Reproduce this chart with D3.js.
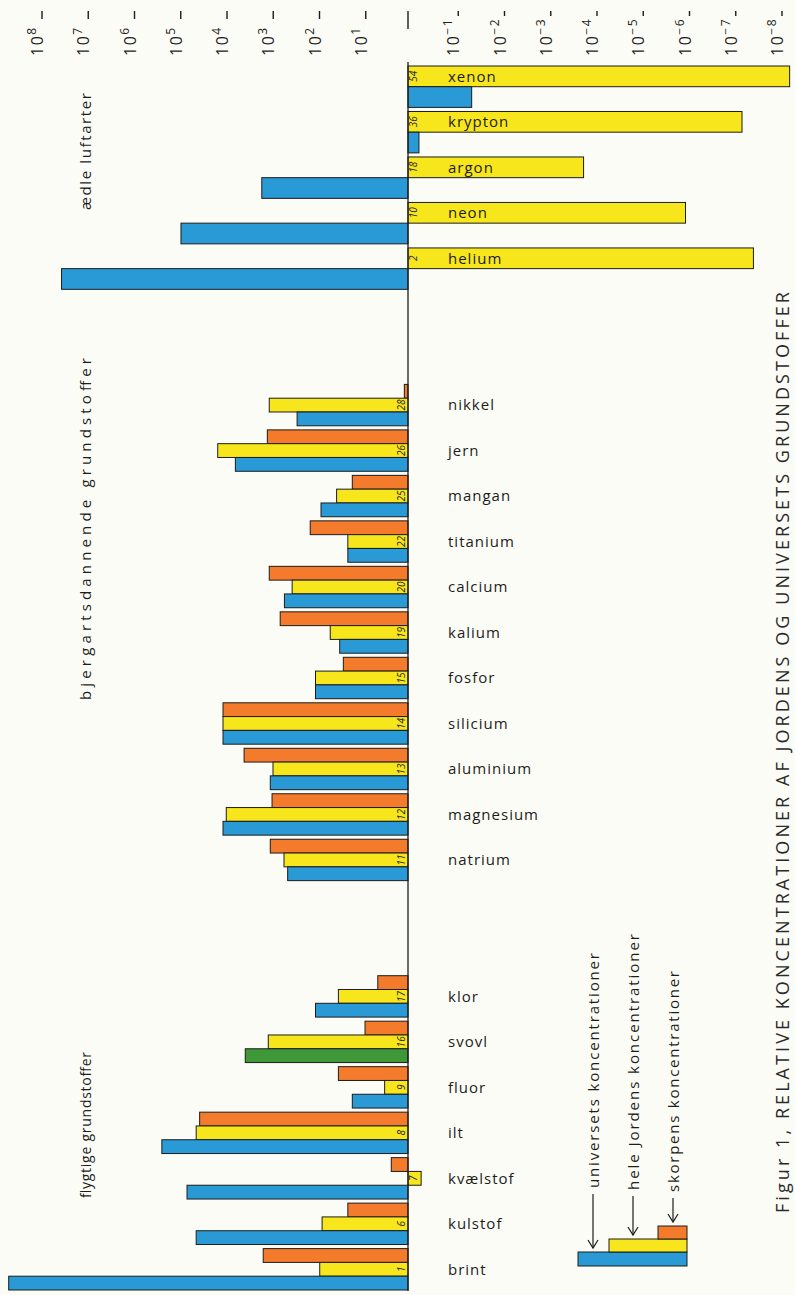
<!DOCTYPE html>
<html>
<head>
<meta charset="utf-8">
<script src="https://cdn.jsdelivr.net/npm/d3@7"></script>
<style>
  html, body { margin: 0; padding: 0; background: #fcfcf6; }
  svg { display: block; font-family: "Open Sans", sans-serif; }
</style>
</head>
<body>
<svg id="chart"></svg>
<script>
// noble gases: only whole earth and universe
const nobleNames = ["xenon", "krypton", "argon", "neon", "helium"];
const nobleNumbers = [54, 36, 18, 10, 2];
const nobleEarth = [5.6e-9, 6e-8, 1.6e-4, 1e-6, 3.4e-8];
const nobleUniverse = [0.042, 0.58, 1.45e3, 8.1e4, 3.1e7];

// rock forming elements
const rockNames = ["nikkel", "jern", "mangan", "titanium", "calcium", "kalium", "fosfor", "silicium", "aluminium", "magnesium", "natrium"];
const rockNumbers = [28, 26, 25, 22, 20, 19, 15, 14, 13, 12, 11];
const rockCrust = [1.2, 1.1e3, 16, 130, 1e3, 580, 25, 1e4, 3.5e3, 870, 950];
const rockEarth = [1e3, 1.3e4, 35, 20, 320, 48, 100, 1e4, 830, 8.5e3, 480];
const rockUniverse = [250, 5.4e3, 76, 20, 470, 30, 100, 1e4, 950, 1e4, 400];

// volatile elements
const volatileNames = ["klor", "svovl", "fluor", "ilt", "kvælstof", "kulstof", "brint"];
const volatileNumbers = [17, 16, 9, 8, 7, 6, 1];
const volatileCrust = [4.5, 8.5, 32, 3.2e4, 2.3, 20, 1.35e3];
const volatileEarth = [32, 1.05e3, 3.2, 3.8e4, 0.52, 72, 81];
const volatileUniverse = [100, 3.3e3, 16, 2.1e5, 6e4, 3.8e4, 4.3e8];

const tickExponents = [8, 7, 6, 5, 4, 3, 2, 1, 0, -1, -2, -3, -4, -5, -6, -7, -8];

const groupLabels = ["ædle luftarter", "bjergartsdannende grundstoffer", "flygtige grundstoffer"];
const legendLabels = ["universets koncentrationer", "hele Jordens koncentrationer", "skorpens koncentrationer"];
const title = "Figur 1,  RELATIVE KONCENTRATIONER AF JORDENS OG UNIVERSETS GRUNDSTOFFER";

const width = 795;
const height = 1295;
const colors = { universe: "#2a9ad6", earth: "#f8e61c", crust: "#f47a2c" };
const green = "#3f9838";
const ink = "#1c1c1c";

const rows = [
  ...nobleNames.map((name, i) => ({
    name, number: nobleNumbers[i], noble: true,
    values: [{ key: "earth", value: nobleEarth[i] }, { key: "universe", value: nobleUniverse[i] }]
  })),
  ...rockNames.map((name, i) => ({
    name, number: rockNumbers[i], noble: false,
    values: [{ key: "crust", value: rockCrust[i] }, { key: "earth", value: rockEarth[i] }, { key: "universe", value: rockUniverse[i] }]
  })),
  ...volatileNames.map((name, i) => ({
    name, number: volatileNumbers[i], noble: false,
    values: [{ key: "crust", value: volatileCrust[i] }, { key: "earth", value: volatileEarth[i] }, { key: "universe", value: volatileUniverse[i] }]
  }))
];

const slots = [...nobleNames, "_a", "_b", ...rockNames, "_c", "_d", ...volatileNames];

const x = d3.scaleLog().domain([1e8, 1e-8]).range([38, 778]);
const y = d3.scaleBand().domain(slots).range([66, 1290]).paddingInner(0.09);
const sub3 = d3.scaleBand().domain(["crust", "earth", "universe"]).range([0, y.bandwidth()]);
const sub2 = d3.scaleBand().domain(["earth", "universe"]).range([0, y.bandwidth()]);
const sub = (d) => (d.noble ? sub2 : sub3);
const x0 = x(1);

const svg = d3.select("#chart").attr("width", width).attr("height", height)
  .attr("viewBox", [0, 0, width, height]);
svg.append("rect").attr("width", width).attr("height", height).attr("fill", "#fcfcf6");

// value axis along the top, labels rotated like the printed page
const ticks = svg.append("g").attr("fill", ink);
ticks.selectAll("g.t")
  .data(tickExponents.filter((k) => k !== 0))
  .join("g")
  .attr("class", "t")
  .each(function (k) {
    const g = d3.select(this);
    const px = x(Math.pow(10, k));
    const t = g.append("text")
      .attr("transform", `translate(${px + 5},56) rotate(-90)`)
      .attr("font-size", 16)
      .attr("letter-spacing", 1.5);
    t.append("tspan").text("10");
    t.append("tspan").attr("dy", -7).attr("font-size", 12).text(k < 0 ? "\u2212" + -k : k);
    g.append("line")
      .attr("x1", px + 4).attr("x2", px + 4)
      .attr("y1", 11).attr("y2", k < 0 ? 16 : 19)
      .attr("stroke", ink).attr("stroke-width", 1.4);
  });
ticks.append("line")
  .attr("x1", x0).attr("x2", x0).attr("y1", 11).attr("y2", 29)
  .attr("stroke", ink).attr("stroke-width", 1.4);

// bars
const row = svg.append("g").selectAll("g.row")
  .data(rows)
  .join("g")
  .attr("class", "row")
  .attr("transform", (d) => `translate(0,${y(d.name)})`);

row.selectAll("rect")
  .data((d) => d.values.map((v) => ({ ...v, row: d })))
  .join("rect")
  .attr("x", (d) => Math.min(x(d.value), x0))
  .attr("width", (d) => Math.abs(x(d.value) - x0))
  .attr("y", (d) => sub(d.row)(d.key))
  .attr("height", (d) => sub(d.row).bandwidth())
  .attr("fill", (d) => (d.row.name === "svovl" && d.key === "universe" ? green : colors[d.key]))
  .attr("stroke", ink)
  .attr("stroke-width", 1);

// atomic numbers inside the earth bar
row.append("text")
  .attr("transform", (d) => {
    const e = d.values.find((v) => v.key === "earth").value;
    const cy = sub(d)("earth") + sub(d).bandwidth() / 2;
    return `translate(${e < 1 ? x0 + 9 : x0 - 3},${cy}) rotate(-90)`;
  })
  .attr("text-anchor", "middle")
  .attr("font-size", 10)
  .attr("font-style", "italic")
  .attr("fill", ink)
  .text((d) => d.number);

// element names
row.append("text")
  .attr("x", 448)
  .attr("y", (d) => sub(d)("earth") + sub(d).bandwidth() / 2)
  .attr("dy", "0.35em")
  .attr("font-size", 15)
  .attr("letter-spacing", 1)
  .attr("fill", ink)
  .text((d) => d.name);

// baseline (value 1)
svg.append("line")
  .attr("x1", x0).attr("x2", x0)
  .attr("y1", 62).attr("y2", 1291)
  .attr("stroke", ink).attr("stroke-width", 1.3);

// group labels
const groupPos = [[93, 210, 15], [358, 700, 15], [1052, 1198, 14]];
svg.append("g").selectAll("text")
  .data(groupLabels)
  .join("text")
  .attr("transform", (d, i) => `translate(91,${groupPos[i][1]}) rotate(-90)`)
  .attr("font-size", (d, i) => groupPos[i][2])
  .attr("textLength", (d, i) => groupPos[i][1] - groupPos[i][0])
  .attr("lengthAdjust", "spacing")
  .attr("fill", ink)
  .text((d) => d);

// legend
const legend = svg.append("g");
legend.append("rect").attr("x", 578).attr("y", 1252).attr("width", 109).attr("height", 14)
  .attr("fill", colors.universe).attr("stroke", ink);
legend.append("rect").attr("x", 609).attr("y", 1239).attr("width", 78).attr("height", 13)
  .attr("fill", colors.earth).attr("stroke", ink);
legend.append("rect").attr("x", 658).attr("y", 1226).attr("width", 29).attr("height", 13)
  .attr("fill", colors.crust).attr("stroke", ink);

const legendArrows = [
  { x: 593, top: 1194, tip: 1248, textY: 1188, len: 235 },
  { x: 633, top: 1196, tip: 1235, textY: 1190, len: 256 },
  { x: 673, top: 1198, tip: 1222, textY: 1192, len: 221 }
];
legendArrows.forEach((a, i) => {
  legend.append("line").attr("x1", a.x).attr("x2", a.x).attr("y1", a.top).attr("y2", a.tip)
    .attr("stroke", ink).attr("stroke-width", 1.2);
  legend.append("path")
    .attr("d", `M${a.x - 5},${a.tip - 8}L${a.x},${a.tip}L${a.x + 5},${a.tip - 8}`)
    .attr("fill", "none").attr("stroke", ink).attr("stroke-width", 1.2);
  legend.append("text")
    .attr("transform", `translate(${a.x + 6},${a.textY}) rotate(-90)`)
    .attr("font-size", 15)
    .attr("textLength", a.len)
    .attr("lengthAdjust", "spacing")
    .attr("fill", ink)
    .text(legendLabels[i]);
});

// caption
svg.append("text")
  .attr("transform", "translate(789,1213) rotate(-90)")
  .attr("font-size", 18)
  .attr("textLength", 921)
  .attr("lengthAdjust", "spacing")
  .attr("fill", "#2a2a2a")
  .text(title);
</script>
</body>
</html>
